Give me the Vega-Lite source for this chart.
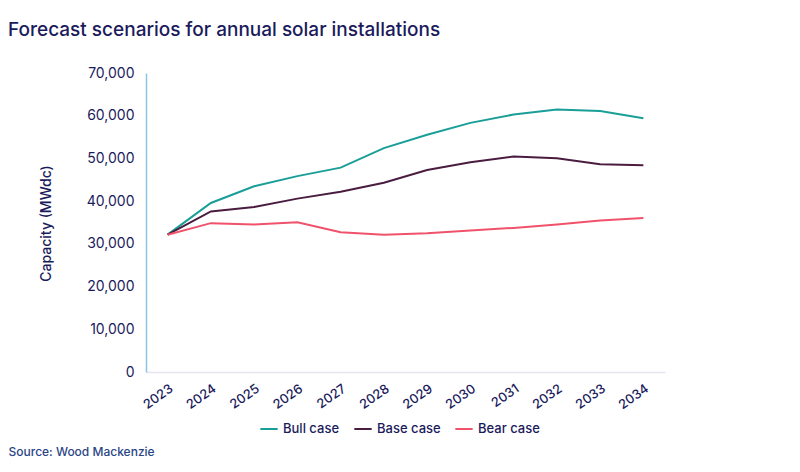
{
  "$schema": "https://vega.github.io/schema/vega-lite/v6.json",
  "autosize": {"type": "none"},
  "width": 519,
  "height": 299,
  "padding": {"left": 146, "top": 73, "right": 135, "bottom": 100},
  "background": "white",
  "config": {
    "font": "Inter",
    "view": {"stroke": null}
  },
  "title": {
    "text": "Forecast scenarios for annual solar installations",
    "anchor": "start",
    "frame": "group",
    "dx": -138,
    "dy": -22,
    "fontSize": 19,
    "fontWeight": 500,
    "color": "#1b1b5c"
  },
  "data": {
    "values": [
      {"Year": "2023", "Scenario": "Bull case", "Capacity": 32150},
      {"Year": "2024", "Scenario": "Bull case", "Capacity": 39570},
      {"Year": "2025", "Scenario": "Bull case", "Capacity": 43500},
      {"Year": "2026", "Scenario": "Bull case", "Capacity": 45860},
      {"Year": "2027", "Scenario": "Bull case", "Capacity": 47850},
      {"Year": "2028", "Scenario": "Bull case", "Capacity": 52410},
      {"Year": "2029", "Scenario": "Bull case", "Capacity": 55560},
      {"Year": "2030", "Scenario": "Bull case", "Capacity": 58320},
      {"Year": "2031", "Scenario": "Bull case", "Capacity": 60280},
      {"Year": "2032", "Scenario": "Bull case", "Capacity": 61470},
      {"Year": "2033", "Scenario": "Bull case", "Capacity": 61090},
      {"Year": "2034", "Scenario": "Bull case", "Capacity": 59430},
      {"Year": "2023", "Scenario": "Base case", "Capacity": 32150},
      {"Year": "2024", "Scenario": "Base case", "Capacity": 37590},
      {"Year": "2025", "Scenario": "Base case", "Capacity": 38630},
      {"Year": "2026", "Scenario": "Base case", "Capacity": 40590},
      {"Year": "2027", "Scenario": "Base case", "Capacity": 42180},
      {"Year": "2028", "Scenario": "Base case", "Capacity": 44300},
      {"Year": "2029", "Scenario": "Base case", "Capacity": 47280},
      {"Year": "2030", "Scenario": "Base case", "Capacity": 49100},
      {"Year": "2031", "Scenario": "Base case", "Capacity": 50450},
      {"Year": "2032", "Scenario": "Base case", "Capacity": 50050},
      {"Year": "2033", "Scenario": "Base case", "Capacity": 48630},
      {"Year": "2034", "Scenario": "Base case", "Capacity": 48390},
      {"Year": "2023", "Scenario": "Bear case", "Capacity": 32150},
      {"Year": "2024", "Scenario": "Bear case", "Capacity": 34850},
      {"Year": "2025", "Scenario": "Bear case", "Capacity": 34520},
      {"Year": "2026", "Scenario": "Bear case", "Capacity": 35080},
      {"Year": "2027", "Scenario": "Bear case", "Capacity": 32720},
      {"Year": "2028", "Scenario": "Bear case", "Capacity": 32150},
      {"Year": "2029", "Scenario": "Bear case", "Capacity": 32480},
      {"Year": "2030", "Scenario": "Bear case", "Capacity": 33100},
      {"Year": "2031", "Scenario": "Bear case", "Capacity": 33740},
      {"Year": "2032", "Scenario": "Bear case", "Capacity": 34520},
      {"Year": "2033", "Scenario": "Bear case", "Capacity": 35460},
      {"Year": "2034", "Scenario": "Bear case", "Capacity": 36030}
    ]
  },
  "mark": {"type": "line", "strokeWidth": 2},
  "encoding": {
    "x": {
      "field": "Year",
      "type": "ordinal",
      "scale": {"type": "point", "padding": 0.5},
      "axis": {
        "title": "Source: Wood Mackenzie",
        "titleX": -138,
        "titleY": 79,
        "titleAlign": "left",
        "titleAnchor": null,
        "titleBaseline": "middle",
        "titleFontSize": 12,
        "titleFontWeight": 500,
        "titleColor": "#2a4585",
        "labelAngle": -35,
        "labelFontSize": 13,
        "labelFontWeight": 500,
        "labelColor": "#1b1b5c",
        "labelPadding": 10,
        "ticks": false,
        "grid": false,
        "domainColor": "#e6e6ee",
        "domainWidth": 1.5
      }
    },
    "y": {
      "field": "Capacity",
      "type": "quantitative",
      "scale": {"domain": [0, 70000], "nice": false},
      "axis": {
        "title": "Capacity (MWdc)",
        "titleFontSize": 14,
        "titleFontWeight": 500,
        "titleColor": "#1b1b5c",
        "titleX": -100,
        "titleY": 150,
        "titleAngle": -90,
        "titleAlign": "center",
        "titleBaseline": "middle",
        "titleAnchor": null,
        "values": [0, 10000, 20000, 30000, 40000, 50000, 60000, 70000],
        "format": ",d",
        "labelFontSize": 14,
        "labelColor": "#1b1b5c",
        "labelPadding": 12,
        "ticks": false,
        "grid": false,
        "domainColor": "#8cc4e8",
        "domainWidth": 1.5
      }
    },
    "color": {
      "field": "Scenario",
      "type": "nominal",
      "sort": ["Bull case", "Base case", "Bear case"],
      "scale": {
        "domain": ["Bull case", "Base case", "Bear case"],
        "range": ["#1a9e98", "#4a1c40", "#f0526c"]
      },
      "legend": {
        "title": null,
        "orient": "none",
        "direction": "horizontal",
        "legendX": 113,
        "legendY": 346,
        "symbolType": "stroke",
        "symbolStrokeWidth": 2,
        "symbolSize": 300,
        "labelFontSize": 13,
        "labelColor": "#1b1b5c",
        "labelFontWeight": 500,
        "columnPadding": 10,
        "labelOffset": 4
      }
    }
  }
}
